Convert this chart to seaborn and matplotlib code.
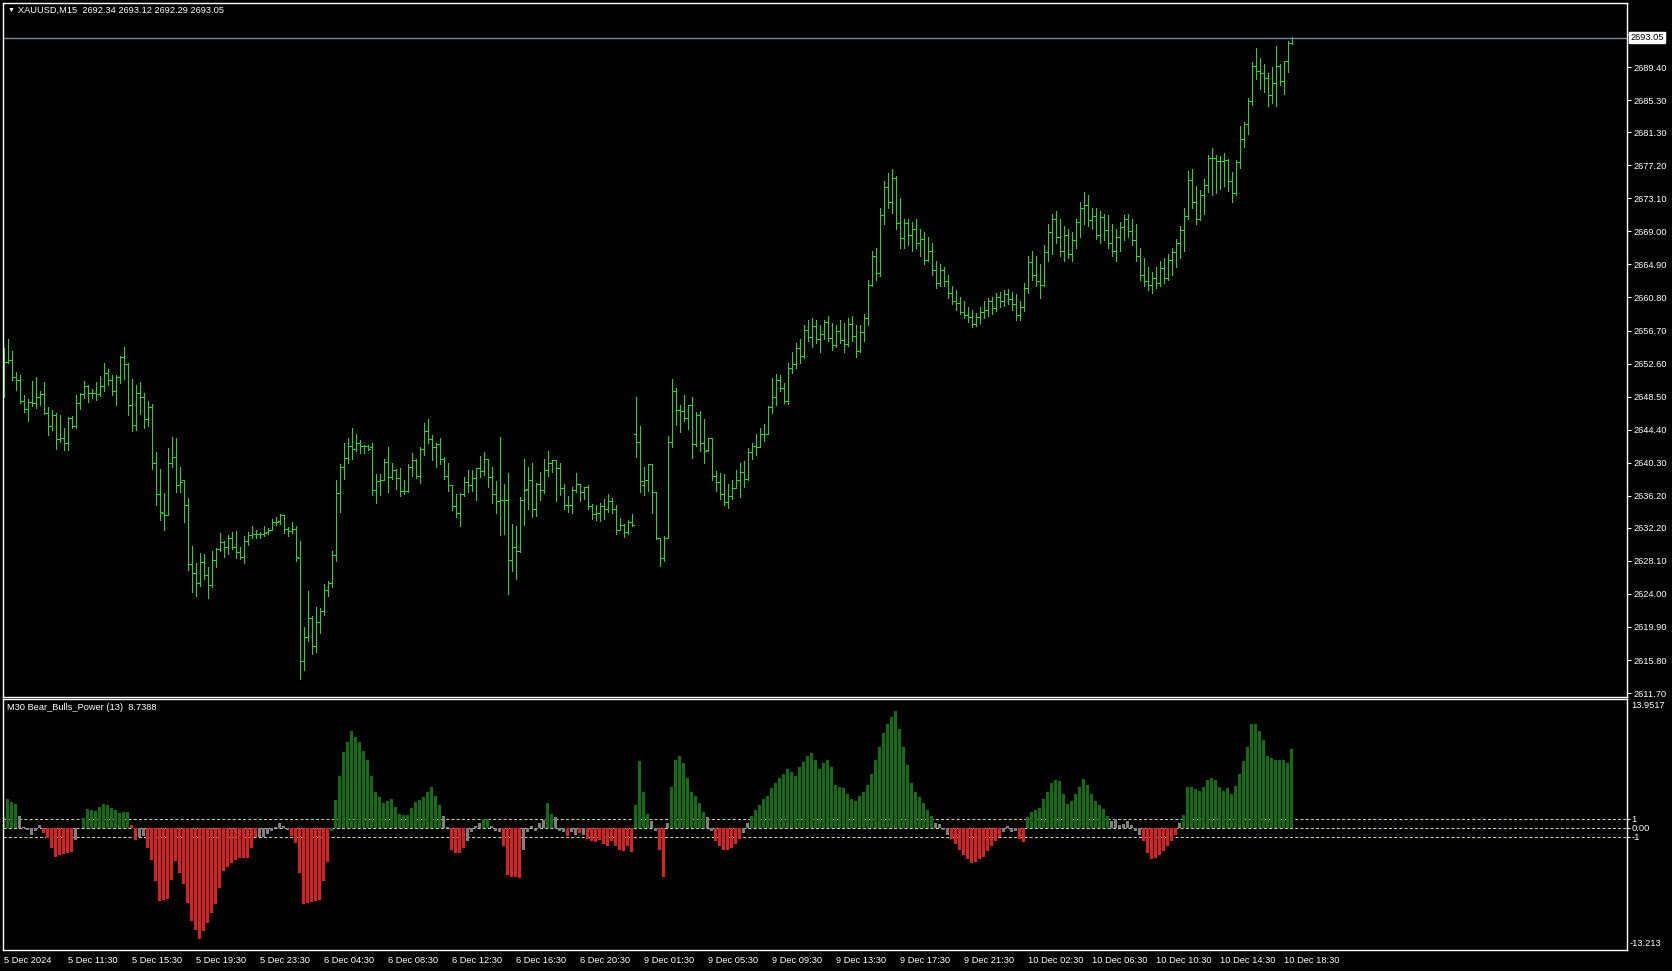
import numpy as np
import pandas as pd
import matplotlib
matplotlib.use("Agg")
import matplotlib.pyplot as plt
import seaborn as sns

# XAUUSD M15 bars
opens = [2649.0, 2652.8, 2653.1, 2650.9, 2650.6, 2648.0, 2646.9, 2647.8, 2647.7, 2648.5,
         2648.8, 2646.5, 2644.8, 2646.2, 2643.2, 2643.3, 2642.7, 2645.8, 2644.8, 2647.7,
         2648.8, 2649.8, 2648.9, 2649.0, 2648.8, 2649.8, 2651.4, 2650.5, 2649.2, 2650.9,
         2653.4, 2652.5, 2647.4, 2645.0, 2649.0, 2648.5, 2645.7, 2647.2, 2640.3, 2636.4,
         2634.1, 2633.8, 2640.2, 2641.0, 2637.5, 2638.1, 2635.1, 2627.7, 2626.6, 2625.3,
         2628.0, 2626.4, 2625.1, 2628.2, 2629.6, 2630.5, 2629.8, 2631.0, 2629.8, 2629.2,
         2628.6, 2630.6, 2631.3, 2631.4, 2631.5, 2631.4, 2631.7, 2632.0, 2632.9, 2633.0,
         2633.8, 2632.1, 2631.8, 2632.1, 2628.5, 2615.7, 2618.7, 2621.0, 2617.5, 2620.5,
         2621.9, 2624.5, 2625.4, 2628.8, 2636.5, 2639.8, 2640.9, 2642.4, 2642.0, 2642.7,
         2642.4, 2642.4, 2642.2, 2636.9, 2638.0, 2638.2, 2640.4, 2638.5, 2639.4, 2638.4,
         2636.8, 2636.8, 2639.7, 2640.6, 2638.7, 2642.0, 2644.2, 2643.2, 2642.2, 2642.6,
         2640.8, 2638.7, 2637.5, 2634.9, 2634.1, 2636.4, 2637.9, 2637.5, 2638.4, 2639.6,
         2639.3, 2640.7, 2638.5, 2636.4, 2635.5, 2635.7, 2635.7, 2628.2, 2629.8, 2629.3,
         2635.6, 2637.0, 2638.2, 2634.5, 2637.6, 2636.9, 2639.4, 2640.2, 2640.6, 2639.6,
         2637.2, 2635.1, 2635.0, 2636.9, 2637.7, 2636.7, 2637.3, 2634.9, 2633.9, 2634.0,
         2634.9, 2634.6, 2635.5, 2634.5, 2631.9, 2632.5, 2631.7, 2632.9, 2643.9, 2642.8,
         2637.5, 2638.1, 2640.1, 2636.6, 2631.0, 2628.5, 2631.0, 2642.8, 2649.2, 2646.8,
         2646.7, 2645.9, 2647.5, 2642.6, 2646.2, 2642.7, 2641.9, 2643.3, 2638.7, 2637.9,
         2636.4, 2635.4, 2636.1, 2637.2, 2638.1, 2639.1, 2638.3, 2641.6, 2642.4, 2642.2,
         2643.9, 2643.9, 2647.2, 2648.5, 2650.5, 2649.6,
         2647.9, 2652.0, 2652.5, 2654.5, 2653.5, 2656.8, 2655.9, 2657.2, 2655.6, 2656.3,
         2657.7, 2655.8, 2654.9, 2656.6, 2655.5, 2655.0, 2657.5, 2656.0, 2654.2, 2656.5,
         2658.2, 2662.3, 2665.9, 2663.8, 2671.0, 2674.5, 2672.6, 2675.6, 2670.0, 2668.2,
         2670.0, 2668.5, 2669.3, 2667.6, 2668.0, 2665.5, 2666.6, 2664.2, 2662.6, 2664.2,
         2662.8, 2661.3, 2660.4, 2660.1, 2659.0, 2658.6, 2658.4, 2657.5, 2658.4, 2659.0,
         2659.3, 2660.3, 2659.5, 2660.9, 2660.4, 2661.2, 2660.6, 2660.0, 2658.6, 2659.6,
         2662.0, 2665.2, 2663.6, 2662.9, 2662.4, 2666.5, 2668.9, 2670.6, 2668.3, 2666.6,
         2668.5, 2666.2, 2667.9, 2670.2, 2671.9, 2672.3, 2670.4, 2670.9, 2668.6, 2670.8,
         2669.2, 2667.6, 2666.6, 2668.3, 2669.6, 2670.6, 2669.0, 2667.9, 2666.0, 2663.6,
         2662.9, 2662.3, 2663.2, 2662.6, 2664.5, 2663.2, 2665.4, 2666.4, 2667.6, 2669.2,
         2670.9, 2675.4, 2672.6, 2670.6, 2673.5, 2674.8, 2678.1, 2678.1, 2677.7, 2677.7,
         2677.9, 2675.3, 2673.8, 2677.6, 2680.5, 2682.3, 2685.2, 2689.5, 2688.9, 2688.7,
         2688.0, 2685.9, 2687.4, 2689.5, 2687.7, 2690.2, 2692.34]
highs = [2654.5, 2655.6, 2654.2, 2651.6, 2651.2, 2648.7, 2648.2, 2650.4, 2650.9, 2649.2,
         2650.3, 2647.2, 2646.8, 2646.4, 2646.2, 2644.6, 2646.0, 2646.1, 2648.7, 2649.0,
         2650.4, 2649.9, 2649.4, 2650.3, 2651.1, 2652.7, 2651.9, 2651.2, 2651.2, 2653.5,
         2654.6, 2652.7, 2650.7, 2649.9, 2650.3, 2648.9, 2648.0, 2647.6, 2641.6, 2639.5,
         2636.5, 2642.1, 2643.5, 2643.4, 2639.8, 2638.1, 2635.9, 2629.9, 2627.8, 2629.1,
         2629.0, 2627.3, 2629.3, 2629.7, 2631.6, 2630.6, 2631.3, 2631.7, 2631.8, 2629.8,
         2631.2, 2631.7, 2632.4, 2631.9, 2631.7, 2632.4, 2632.2, 2633.3, 2633.6, 2633.9,
         2633.8, 2632.3, 2632.9, 2632.4, 2630.6, 2619.9, 2624.4, 2621.3, 2622.4, 2622.3,
         2625.2, 2625.6, 2629.3, 2638.1, 2640.1, 2642.7, 2643.3, 2644.6, 2643.9, 2643.1,
         2642.5, 2642.5, 2642.7, 2638.9, 2638.9, 2640.8, 2642.2, 2640.3, 2639.5, 2639.6,
         2638.1, 2640.1, 2641.5, 2640.8, 2642.2, 2645.2, 2645.7, 2643.7, 2642.7, 2643.4,
         2641.0, 2640.3, 2637.5, 2636.4, 2636.5, 2638.5, 2639.4, 2639.4, 2639.6, 2641.1,
         2641.6, 2640.8, 2639.8, 2638.0, 2643.5, 2637.6, 2639.0, 2632.7, 2632.4, 2636.0,
         2640.8, 2639.8, 2640.3, 2637.8, 2639.1, 2640.8, 2641.7, 2640.6, 2640.6, 2640.3,
         2637.6, 2636.1, 2637.3, 2639.0, 2637.7, 2637.3, 2637.5, 2635.2, 2635.0, 2635.3,
         2635.8, 2636.4, 2635.9, 2635.0, 2633.4, 2632.7, 2633.2, 2633.9, 2648.5, 2644.9,
         2639.8, 2640.1, 2640.1, 2636.6, 2631.0, 2631.2, 2643.6, 2650.7, 2649.6, 2647.4,
         2648.7, 2647.5, 2648.5, 2646.6, 2646.7, 2645.7, 2643.4, 2643.4, 2639.2, 2639.0,
         2638.9, 2637.6, 2638.2, 2639.4, 2640.3, 2640.5, 2642.1, 2642.7, 2643.9, 2644.6,
         2645.1, 2647.3, 2650.8, 2651.3, 2651.2, 2650.2,
         2652.7, 2654.0, 2655.1, 2655.6, 2657.4, 2658.0, 2658.3, 2658.0, 2657.4, 2658.0,
         2658.5, 2657.6, 2657.4, 2658.0, 2657.6, 2658.3, 2658.5, 2657.4, 2657.4, 2658.7,
         2663.0, 2666.6, 2667.0, 2671.9, 2675.2, 2676.3, 2676.8, 2675.9, 2673.2, 2670.6,
         2670.6, 2670.2, 2670.6, 2669.3, 2668.9, 2668.3, 2667.5, 2665.3, 2664.9, 2664.6,
         2663.6, 2662.2, 2661.7, 2660.9, 2660.4, 2659.6, 2659.3, 2658.9, 2659.6, 2660.4,
         2660.7, 2660.8, 2661.3, 2661.5, 2661.7, 2661.9, 2661.5, 2661.2, 2660.4, 2662.6,
         2666.0, 2666.6, 2665.9, 2664.9, 2667.3, 2669.9, 2671.2, 2671.5, 2670.6, 2669.7,
         2669.3, 2668.9, 2670.6, 2672.6, 2673.9, 2673.5, 2671.9, 2671.9, 2671.5, 2671.2,
         2671.0, 2669.9, 2669.3, 2670.2, 2671.0, 2671.2, 2670.6, 2669.9, 2667.0, 2665.7,
         2664.6, 2664.0, 2664.6, 2665.3, 2665.7, 2666.2, 2667.0, 2668.0, 2669.7, 2671.9,
         2676.5, 2676.8, 2674.6, 2674.2, 2675.5, 2678.5, 2679.4, 2678.5, 2678.4, 2678.7,
         2678.0, 2676.4, 2677.9, 2682.1, 2682.6, 2685.6, 2690.0, 2691.8, 2690.5, 2689.8,
         2688.7, 2689.4, 2692.0, 2689.8, 2690.2, 2692.6, 2693.12]
lows = [2648.5, 2652.7, 2650.5, 2649.3, 2647.7, 2646.6, 2645.5, 2647.3, 2647.1, 2647.5,
        2646.3, 2643.7, 2644.4, 2642.0, 2642.8, 2641.9, 2641.9, 2644.6, 2644.6, 2647.0,
        2648.3, 2647.8, 2648.3, 2648.1, 2648.6, 2649.2, 2649.9, 2648.7, 2647.5, 2650.2,
        2650.7, 2646.2, 2644.2, 2644.3, 2646.3, 2644.6, 2644.8, 2639.5, 2635.1, 2633.2,
        2631.9, 2633.8, 2639.8, 2636.7, 2636.6, 2632.9, 2627.0, 2624.3, 2623.7, 2625.0,
        2625.8, 2623.5, 2624.9, 2627.4, 2629.3, 2628.6, 2628.9, 2629.6, 2628.5, 2628.4,
        2627.9, 2630.1, 2631.0, 2631.0, 2631.0, 2631.2, 2631.5, 2631.9, 2632.6, 2632.7,
        2631.6, 2631.2, 2631.6, 2628.1, 2613.4, 2614.5, 2618.2, 2616.5, 2616.8, 2619.1,
        2621.4, 2623.7, 2624.9, 2628.1, 2634.2, 2638.3, 2640.2, 2640.7, 2641.7, 2641.5,
        2641.5, 2641.9, 2636.3, 2635.3, 2636.3, 2638.1, 2636.7, 2638.3, 2637.0, 2636.1,
        2636.4, 2636.6, 2638.6, 2638.4, 2637.8, 2641.2, 2642.7, 2640.6, 2639.8, 2640.1,
        2638.3, 2636.8, 2634.4, 2633.6, 2632.4, 2636.2, 2636.7, 2636.8, 2635.7, 2638.5,
        2638.8, 2637.3, 2635.3, 2634.0, 2631.3, 2631.5, 2624.0, 2626.9, 2625.8, 2629.2,
        2632.6, 2634.6, 2633.5, 2633.7, 2635.6, 2636.5, 2638.7, 2639.1, 2635.5, 2636.3,
        2634.6, 2634.2, 2634.1, 2636.6, 2635.5, 2635.8, 2634.5, 2633.3, 2633.2, 2633.0,
        2633.3, 2634.2, 2634.0, 2631.5, 2631.9, 2631.1, 2631.5, 2632.4, 2641.0, 2636.6,
        2636.3, 2636.8, 2634.1, 2630.8, 2627.5, 2628.1, 2630.9, 2642.3, 2645.0, 2644.1,
        2645.5, 2644.5, 2640.9, 2642.4, 2641.7, 2640.3, 2641.7, 2638.2, 2636.8, 2635.8,
        2635.0, 2634.7, 2635.8, 2637.1, 2636.0, 2637.3, 2638.2, 2640.7, 2641.3, 2642.2,
        2643.0, 2643.8, 2646.5, 2647.5, 2649.2, 2647.7,
        2647.6, 2651.4, 2652.1, 2652.7, 2653.3, 2655.4, 2654.7, 2655.1, 2654.0, 2655.6,
        2655.4, 2654.3, 2654.7, 2655.1, 2654.0, 2654.8, 2655.4, 2653.4, 2654.0, 2655.4,
        2657.4, 2662.2, 2663.0, 2663.5, 2669.9, 2671.9, 2671.3, 2669.3, 2667.0, 2667.0,
        2667.3, 2666.6, 2667.0, 2666.0, 2664.9, 2665.3, 2663.6, 2662.0, 2662.2, 2662.2,
        2660.7, 2660.0, 2659.3, 2658.7, 2658.3, 2657.8, 2657.1, 2657.2, 2657.6, 2658.3,
        2658.5, 2658.7, 2659.1, 2659.6, 2659.7, 2660.0, 2659.3, 2658.0, 2658.0, 2659.1,
        2661.3, 2663.0, 2662.2, 2660.7, 2662.2, 2665.3, 2666.2, 2667.5, 2666.0, 2665.3,
        2665.7, 2665.3, 2667.0, 2668.3, 2669.9, 2669.7, 2669.3, 2668.0, 2667.5, 2667.9,
        2667.0, 2666.0, 2665.3, 2666.6, 2667.9, 2668.3, 2667.3, 2665.3, 2663.0, 2662.2,
        2661.7, 2661.3, 2662.0, 2662.2, 2662.6, 2663.0, 2663.6, 2664.6, 2665.7, 2666.6,
        2670.6, 2671.9, 2669.9, 2670.4, 2671.2, 2673.9, 2673.5, 2673.8, 2674.3, 2674.6,
        2674.0, 2672.6, 2673.5, 2676.9, 2679.5, 2681.1, 2684.7, 2687.9, 2686.7, 2686.3,
        2684.6, 2684.9, 2684.6, 2687.2, 2686.1, 2688.8, 2692.29]
closes = [2652.8, 2653.1, 2650.9, 2650.6, 2648.0, 2646.9, 2647.8, 2647.7, 2648.5, 2648.8,
          2646.5, 2644.8, 2646.2, 2643.2, 2643.3, 2642.7, 2645.8, 2644.8, 2647.7, 2648.8,
          2649.8, 2648.9, 2649.0, 2648.8, 2649.8, 2651.4, 2650.5, 2649.2, 2650.9, 2653.4,
          2652.5, 2647.4, 2645.0, 2649.0, 2648.5, 2645.7, 2647.2, 2640.3, 2636.4, 2634.2,
          2633.8, 2640.2, 2641.0, 2637.5, 2637.9, 2635.1, 2627.7, 2626.6, 2625.3, 2628.0,
          2626.4, 2625.1, 2628.2, 2629.6, 2630.5, 2629.8, 2631.0, 2629.8, 2629.2, 2628.6,
          2630.6, 2631.3, 2631.4, 2631.5, 2631.4, 2631.6, 2632.0, 2632.9, 2632.9, 2633.8,
          2632.1, 2631.8, 2632.1, 2628.6, 2615.7, 2618.7, 2621.0, 2617.5, 2620.5, 2621.9,
          2624.5, 2625.4, 2628.8, 2636.5, 2639.8, 2640.9, 2642.4, 2642.0, 2642.7, 2642.4,
          2642.4, 2642.0, 2636.9, 2638.0, 2638.2, 2640.4, 2638.5, 2639.4, 2638.4, 2636.8,
          2636.8, 2639.7, 2640.6, 2638.7, 2642.0, 2644.2, 2643.2, 2642.2, 2642.6, 2640.8,
          2638.7, 2637.5, 2634.9, 2634.1, 2636.4, 2637.9, 2637.5, 2638.4, 2639.6, 2639.3,
          2640.7, 2638.5, 2636.4, 2635.5, 2635.7, 2635.7, 2628.2, 2629.8, 2629.3, 2635.6,
          2636.9, 2638.2, 2634.5, 2637.6, 2636.9, 2639.4, 2640.2, 2640.6, 2639.6, 2637.2,
          2635.1, 2635.0, 2636.9, 2637.7, 2636.7, 2637.3, 2634.9, 2633.9, 2634.0, 2634.9,
          2634.6, 2635.5, 2634.5, 2631.9, 2632.5, 2631.7, 2632.9, 2632.6, 2642.8, 2638.0,
          2638.1, 2640.1, 2636.6, 2631.0, 2628.5, 2631.0, 2642.8, 2649.2, 2646.8, 2646.7,
          2645.9, 2647.5, 2642.6, 2646.2, 2642.7, 2641.8, 2643.3, 2638.7, 2637.9, 2636.4,
          2635.4, 2636.1, 2637.2, 2638.1, 2639.1, 2638.3, 2641.6, 2642.4, 2642.2, 2643.9,
          2643.9, 2647.2, 2648.5, 2650.5, 2649.6, 2647.9,
          2652.0, 2652.5, 2654.5, 2653.5, 2656.8, 2655.9, 2657.2, 2655.6, 2656.3, 2657.7,
          2655.8, 2654.9, 2656.6, 2655.5, 2655.0, 2657.5, 2656.0, 2654.2, 2656.5, 2658.2,
          2662.3, 2665.9, 2663.8, 2671.0, 2674.5, 2672.6, 2675.6, 2670.0, 2668.2, 2670.0,
          2668.5, 2669.3, 2667.6, 2668.0, 2665.5, 2666.6, 2664.2, 2662.6, 2664.2, 2662.8,
          2661.3, 2660.4, 2660.1, 2659.0, 2658.6, 2658.4, 2657.5, 2658.4, 2659.0, 2659.3,
          2660.3, 2659.5, 2660.9, 2660.4, 2661.2, 2660.6, 2660.0, 2658.6, 2659.6, 2662.0,
          2665.2, 2663.6, 2662.9, 2662.4, 2666.5, 2668.9, 2670.6, 2668.3, 2666.6, 2668.5,
          2666.2, 2667.9, 2670.2, 2671.9, 2672.3, 2670.4, 2670.9, 2668.6, 2670.8, 2669.2,
          2667.6, 2666.6, 2668.3, 2669.6, 2670.6, 2669.0, 2667.9, 2666.0, 2663.6, 2662.9,
          2662.3, 2663.2, 2662.6, 2664.5, 2663.2, 2665.4, 2666.4, 2667.6, 2669.2, 2670.9,
          2675.4, 2672.6, 2670.6, 2673.5, 2674.8, 2678.1, 2678.1, 2677.7, 2677.7, 2677.9,
          2675.3, 2673.8, 2677.6, 2680.5, 2682.3, 2685.2, 2689.5, 2688.9, 2688.7, 2688.0,
          2685.9, 2687.4, 2689.5, 2687.7, 2690.2, 2692.4, 2693.05]

# M30 Bear_Bulls_Power(13) histogram and its colour state (g=bull, r=bear, n=neutral)
power = [1.2, 3.2, 2.9, 2.7, 1.3, 0.1, -0.2, -0.8, -0.3, 0.3,
         -0.6, -1.1, -2.2, -3.2, -3.0, -2.9, -2.8, -2.7, -1.3, 0.05,
         1.1, 2.1, 2.0, 1.9, 2.3, 2.7, 2.6, 2.2, 2.0, 1.7,
         1.8, 1.8, 0.3, -1.3, -1.0, -0.9, -2.2, -3.6, -5.9, -8.1,
         -8.0, -7.9, -5.8, -3.7, -5.0, -6.2, -8.3, -10.3, -11.3, -12.3,
         -11.4, -10.6, -9.4, -8.4, -6.7, -4.8, -4.3, -3.9, -3.6, -3.3,
         -3.3, -3.3, -2.2, -1.0, -1.0, -1.0, -0.7, -0.3, 0.1, 0.6,
         0.2, -0.2, -0.9, -1.7, -5.0, -8.4, -8.3, -8.2, -8.1, -8.0,
         -5.9, -3.8, -0.3, 3.1, 5.8, 8.4, 9.6, 10.8, 10.1, 9.6,
         8.6, 7.6, 5.8, 4.0, 3.4, 2.8, 3.0, 3.2, 2.3, 1.6,
         1.4, 1.4, 2.2, 2.9, 3.1, 3.4, 4.0, 4.6, 3.6, 2.6,
         1.3, 0.1,
         -2.5, -2.8, -2.8, -2.2, -1.5, -0.5, 0.2, 0.5, 1.0, 1.0,
         0.2, -0.3, -0.5, -2.0, -5.2, -5.5, -5.4, -5.6, -2.5, -0.5,
         0.2, -0.3, 0.5, 0.9, 2.8, 1.5, 1.2, -0.3, -0.5, -0.9,
         -0.4, -0.8, -0.6, -0.8, -1.2, -1.5, -1.6, -1.3, -1.8, -2.0,
         -1.5, -2.0, -2.4, -2.6, -2.0, -2.7, 2.6, 7.4, 4.0, 1.5,
         0.8, -0.3, -2.5, -5.5, 0.5, 4.5, 7.6, 8.0, 7.2, 5.5,
         4.0, 3.5, 2.8, 1.8, 1.2, -0.3, -1.5, -2.0, -2.4, -2.4,
         -2.2, -1.8, -1.2, -0.6, 0.6, 1.3, 2.0, 2.6, 3.2, 3.6,
         4.4, 5.0, 5.5, 6.0, 6.5, 6.2, 5.8, 6.8, 7.3, 8.0,
         8.3, 7.6, 6.5, 7.2, 7.6, 6.8, 4.8, 4.5, 4.4, 3.8,
         3.2, 3.0, 3.5, 4.0, 4.8, 6.0, 7.5, 9.0, 10.5, 11.5,
         12.3, 13.0, 11.0, 9.0, 7.0, 5.0, 4.0, 3.4, 2.8, 2.0,
         1.3, 0.6, 0.4, -0.2, -0.8, -1.2, -1.8, -2.4, -3.0, -3.5,
         -3.9, -3.8, -3.4, -3.2, -2.6, -2.0, -1.5, -1.0, -0.4, 0.2,
         -0.5, -0.3, -1.2, -1.6, 1.2, 1.8, 2.0, 2.2, 3.2, 4.0,
         5.0, 5.3, 5.2, 3.8, 2.7, 3.0, 3.8, 4.5, 5.4, 4.8,
         3.8, 3.0, 2.5, 2.1, 1.3, 0.8, 1.0, 0.3, 0.4, 0.8,
         0.3, -0.3, -0.8, -1.5, -2.8, -3.4, -3.3, -3.0, -2.6, -2.0,
         -1.5, -0.8, 0.5, 1.4, 4.6, 4.5, 4.3, 4.1, 4.6, 5.3,
         5.6, 5.3, 4.6, 4.1, 4.4, 3.8, 4.7, 6.0, 7.4, 9.0,
         11.5, 11.5, 10.8, 9.8, 8.0, 7.8, 7.5, 7.6, 7.6, 7.2,
         8.7388]
state = list("ggggnnnnnn" "rrrrrrrrnn" "gggggggggg"
             "ggrrnnrrrr" "rrrrrrrrrr" "rrrrrrrrrr"
             "rrrrnnnnnn" "nnrrrrrrrr" "rrgggggggg"
             "gggggggggg" "gggggggggg" "nn"
             "rrrrnnnngg" "nnnrrrrrnn" "nnnnggnnnr"
             "nnrnrrrrrr" "rrrrrrgggg" "nnrrnggggg"
             "ggggnnrrrr" "rrrnnggggg" "gggggggggg"
             "gggggggggg" "gggggggggg" "gggggggggg"
             "gnnnnrrrrr" "rrrrrrrrnn" "nnrrgggggg"
             "gggggggggg" "gggggnnnnn" "nnnrrrrrrr"
             "rrnggggggg" "gggggggggg" "gggggggggg"
             "g")

price_ticks = [2611.70, 2615.80, 2619.90, 2624.00, 2628.10, 2632.20, 2636.20,
               2640.30, 2644.40, 2648.50, 2652.60, 2656.70, 2660.80, 2664.90,
               2669.00, 2673.10, 2677.20, 2681.30, 2685.30, 2689.40, 2693.50]
last_price = 2693.05
time_ticks = [0, 16, 32, 48, 64, 80, 96, 112, 128, 144, 160, 176, 192, 208,
              224, 240, 256, 272, 288, 304, 320]
time_labels = ["5 Dec 2024", "5 Dec 11:30", "5 Dec 15:30", "5 Dec 19:30",
               "5 Dec 23:30", "6 Dec 04:30", "6 Dec 08:30", "6 Dec 12:30",
               "6 Dec 16:30", "6 Dec 20:30", "9 Dec 01:30", "9 Dec 05:30",
               "9 Dec 09:30", "9 Dec 13:30", "9 Dec 17:30", "9 Dec 21:30",
               "10 Dec 02:30", "10 Dec 06:30", "10 Dec 10:30", "10 Dec 14:30",
               "10 Dec 18:30"]

sns.set_style("dark", {"axes.facecolor": "black", "figure.facecolor": "black",
                       "axes.edgecolor": "white", "grid.color": "black",
                       "xtick.color": "white", "ytick.color": "white",
                       "text.color": "white"})
plt.rcParams["font.family"] = ["Liberation Sans", "DejaVu Sans"]
FS = 6.7
BAR = "#1edc1e"
LEVEL = "#cfcf8f"

W, H = 1672, 971
fig = plt.figure(figsize=(W / 100, H / 100), dpi=100)
ax = fig.add_axes([3 / W, 1 - 697 / H, 1624 / W, 694 / H])
ax2 = fig.add_axes([3 / W, 1 - 950 / H, 1624 / W, 251 / H])

# price bars
x = np.arange(len(closes))
ax.vlines(x, lows, highs, color=BAR, lw=0.72, antialiased=False)
ax.hlines(opens, x - 0.5, x, color=BAR, lw=0.72, antialiased=False)
ax.hlines(closes, x, x + 0.5, color=BAR, lw=0.72, antialiased=False)
ax.axhline(last_price, color="#778899", lw=1)

ax.set_xlim(-0.15, 405.85)
ax.set_ylim(2611.21, 2697.35)
ax.yaxis.tick_right()
ax.set_yticks(price_ticks)
ax.set_yticklabels([f"{v:.2f}" for v in price_ticks])
ax.set_xticks([])
ax.tick_params(axis="y", colors="white", labelcolor="white", length=3, width=0.8,
               pad=1.5, labelsize=FS, direction="out")
ax.annotate(f"{last_price:.2f}", xy=(1, last_price), xycoords=("axes fraction", "data"),
            xytext=(2.2, 0), textcoords="offset points", va="center", ha="left",
            color="black", fontsize=FS, annotation_clip=False, zorder=10,
            bbox=dict(boxstyle="square,pad=0.12", fc="white", ec="white"))

# indicator histogram
df = pd.DataFrame({"bar": np.arange(len(power)), "power": power, "state": state})
sns.barplot(data=df, x="bar", y="power", hue="state", native_scale=True, dodge=False,
            palette={"g": "#008000", "r": "#ff0000", "n": "#808080"}, width=0.75,
            errorbar=None, linewidth=0, legend=False, ax=ax2)
for lvl in (1, 0, -1):
    ax2.axhline(lvl, color=LEVEL, lw=0.75, ls=(0, (3, 2)), zorder=0.5)
ax2.set_xlim(-0.15, 405.85)
ax2.set_ylim(-13.56, 14.33)
ax2.set_xlabel("")
ax2.set_ylabel("")
ax2.yaxis.tick_right()
ax2.set_yticks([1, 0, -1])
ax2.set_yticklabels(["1", "0.00", "-1"])
ax2.tick_params(axis="y", colors="white", labelcolor="white", length=2, width=0.8,
                pad=1, labelsize=FS, direction="out")
ax2.set_xticks(time_ticks)
ax2.set_xticklabels(time_labels)
ax2.tick_params(axis="x", colors="white", labelcolor="white", length=3, width=0.8,
                pad=1.5, labelsize=FS, direction="out")
for lab in ax2.get_xticklabels():
    lab.set_ha("left")
ax2.annotate("13.9517", xy=(1, 1), xycoords="axes fraction", xytext=(3, -1.5),
             textcoords="offset points", va="top", ha="left", color="white", fontsize=FS)
ax2.annotate("-13.213", xy=(1, 0), xycoords="axes fraction", xytext=(2, 1.5),
             textcoords="offset points", va="bottom", ha="left", color="white", fontsize=FS)

for a in (ax, ax2):
    for s in a.spines.values():
        s.set_color("white")
        s.set_linewidth(1)
    a.grid(False)

fig.text(8 / W, 1 - 10 / H, "▼", color="white", fontsize=5, va="center", ha="left")
fig.text(18 / W, 1 - 10 / H, "XAUUSD,M15  2692.34 2693.12 2692.29 2693.05",
         color="white", fontsize=FS, va="center", ha="left")
fig.text(7 / W, 1 - 707 / H, "M30 Bear_Bulls_Power (13)  8.7388",
         color="white", fontsize=FS, va="center", ha="left")

fig.savefig("out.png", dpi=100, facecolor="black")
